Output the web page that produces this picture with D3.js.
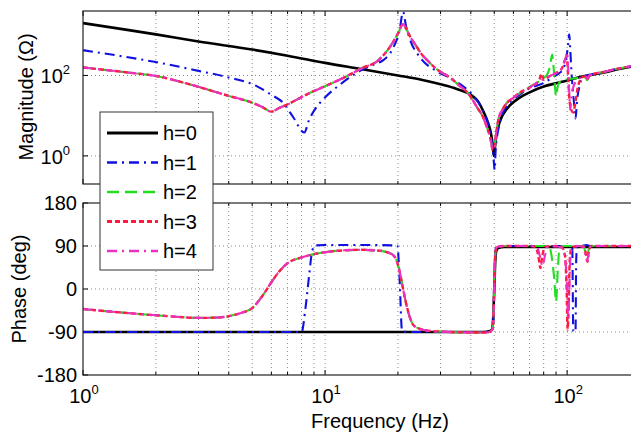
<!DOCTYPE html>
<html><head><meta charset="utf-8">
<script src="https://cdn.jsdelivr.net/npm/d3@7"></script>
<style>
body{margin:0;background:#fff}
svg{display:block}
text{font-family:"Liberation Sans",Arial,Helvetica,sans-serif;fill:#000}
</style>
</head><body>
<svg id="c" width="631" height="432"></svg>
<script>
// ---------- DATA ----------
const seriesNames = ["h=0","h=1","h=2","h=3","h=4"];
const xTickValues = [1, 10, 100];
const xTickExponents = ["0","1","2"];
const magTickValues = [1, 100];
const magTickExponents = ["0","2"];
const phaseTickValues = [-180, -90, 0, 90, 180];
const phaseGridValues = [-90, 0, 90];

// magnitude (Ohm) vs frequency (Hz)
const mag_h0 = [[1,2000],[1.5,1380],[2,1050],[3,700],[5,440],[7,310],[10,205],[14,145],[20,100],[25,78],[30,60],[35,46],[40,33],[43,22],[45,13],[47,7],[48.5,3.5],[49.3,1.8],[49.8,1.0],[50.3,1.6],[51,3.2],[52,5.5],[54,10],[56,14],[58,18],[63,27],[70,38],[80,53],[90,64],[100,75],[110,88],[125,102],[140,116],[160,140],[185,166],[200,180]];
const mag_h1 = [[1,425],[1.5,290],[2,215],[3,130],[4,89],[5,61],[6,33],[6.7,21],[7.4,9],[8.2,3.8],[8.6,8],[9.2,16],[9.8,25],[11.8,66],[14.3,141],[16,190],[17.4,240],[19.1,480],[20.3,1300],[21,3800],[21.6,1700],[22.4,800],[24.7,280],[29,126],[33,85],[37,55],[41,31],[44,17],[46,9.5],[48,4],[49.2,1.6],[49.8,0.7],[50.2,0.45],[50.6,1.2],[51.2,2.6],[52.5,6],[54,11],[57,19],[63,32],[70,48],[80,65],[87,89],[93,115],[96,141],[99,250],[101,600],[102,1060],[103,450],[104,150],[105.5,45],[107,18],[108.3,8.5],[110,25],[113,60],[116,92],[125,105],[140,120],[160,145],[185,170],[200,182]];
const magLow_h234 = [[1,158],[1.5,120],[2,97],[3,52],[4,31],[5,21],[5.5,16.4],[6,12.6],[6.5,15.8],[7,19],[8,29],[9,41],[10,54],[12,89],[14.3,155],[16.4,224],[18.6,530],[20,1100],[21,1900],[21.7,1400],[22.4,950],[24,500],[24.7,380],[27,210],[29,141],[32.8,89],[36,55],[39,36],[42.5,16],[45,9],[46.7,5],[48.3,2.6],[49.3,1.4],[50,1.5],[51,4],[52,8],[54,14],[56.5,21]];
const magHigh_h2 = [[60,28],[63.5,36],[70,52],[75,66],[80,85],[83,110],[85,170],[86.7,330],[88,150],[89,60],[90,30],[91,45],[92.5,65],[95,75],[100,80],[110,86],[116,94],[119,88],[121,76],[123,92],[126,105],[140,120],[160,145],[185,170],[200,182]];
const magHigh_h3 = [[60,28],[63.5,37],[70,50],[75,65],[77,82],[78.5,110],[80,78],[82,85],[86,100],[90,115],[93.6,130],[96.5,180],[98.5,260],[100,230],[101,90],[102,30],[104,14],[106,12],[108,20],[111,55],[116,92],[119,95],[121,80],[123,95],[126,105],[140,120],[160,145],[185,170],[200,182]];
const magHigh_h4 = [[60,28],[63.5,37],[70,50],[75,65],[80,82],[85,98],[90,115],[93.6,130],[96.5,190],[99,300],[100,380],[101,150],[102,40],[103,14],[104.5,35],[106.5,55],[110,75],[116,92],[119,95],[121,82],[123,96],[126,105],[140,120],[160,145],[185,170],[200,182]];

// phase (deg) vs frequency (Hz)
const ph_h0 = [[1,-90],[45,-90],[48,-88],[49,-84],[49.5,-60],[50,0],[50.5,60],[51,80],[52,86],[55,88],[200,88]];
const ph_h1 = [[1,-90],[8.0,-90],[8.3,-40],[8.6,30],[8.85,80],[9.1,91],[10,92],[15,92],[19.9,91],[20.3,25],[20.8,-88],[22,-90],[30,-90],[47,-90],[48.5,-88],[49.3,-82],[49.8,-30],[50.3,60],[50.8,86],[52,90],[90,90],[103,90],[105,86],[106,-88],[108.3,-90],[109,60],[110,88],[115,90],[120,92],[125,90],[200,90]];
const phLow_h234 = [[1,-42],[1.5,-50],[2,-55],[2.5,-58.5],[3,-60.5],[3.5,-60],[4,-57],[4.5,-50],[5,-40],[5.5,-15],[6,14],[6.5,38],[7,54],[8,66],[9,73],[10,77],[12,81],[14,82],[16.9,80],[18,77],[19.1,71],[19.8,58],[20.4,33],[21.1,-5],[21.8,-38],[22.5,-62],[23.1,-75],[24.5,-83],[26.4,-87],[30,-89],[40,-91],[47,-91],[48.5,-88],[49.3,-80],[49.8,-30],[50.3,60],[51,86],[52,89],[55,90],[60,90],[70,90]];
const phHigh_h2 = [[75,90],[84,90],[86.5,65],[88.5,20],[90,-27],[91.5,40],[93,85],[96,90],[110,90],[117,90],[119,76],[121,70],[123,84],[126,90],[200,90]];
const phHigh_h3 = [[74,88],[76,70],[77.5,44],[79,70],[81,88],[90,90],[95,88],[98,70],[99.5,0],[100.5,-85],[101.5,-30],[102.5,60],[104,85],[110,90],[118,88],[120,68],[121.5,57],[123,80],[126,90],[200,90]];
const phHigh_h4 = [[75,88],[77.5,65],[79,48],[81,70],[83,88],[90,89],[95,86],[98,65],[100,0],[101,-62],[102,-10],[103,60],[105,85],[110,90],[117,88],[119.5,65],[121,58],[123,80],[126,90],[200,90]];

// ---------- STYLE ----------
const styles = [
  {color:"#000000", dash:null,        width:2.6},
  {color:"#1010e0", dash:"10,5,2,5",  width:2.1},
  {color:"#22dd22", dash:"12,6",      width:2.1},
  {color:"#ff1a40", dash:"5,3",       width:2.4},
  {color:"#ee30c0", dash:"10,5,2,5",  width:2.1}
];
const mags = [mag_h0, mag_h1, magLow_h234.concat(magHigh_h2), magLow_h234.concat(magHigh_h3), magLow_h234.concat(magHigh_h4)];
const phs  = [ph_h0, ph_h1, phLow_h234.concat(phHigh_h2), phLow_h234.concat(phHigh_h3), phLow_h234.concat(phHigh_h4)];

// ---------- SCALES ----------
const svg = d3.select("#c");
const L = 83, R = 640;
const x = d3.scaleLog().domain([1, 200]).range([L, R]);
const yM = d3.scaleLog().domain([0.2, 4000]).range([184, 11]);
const yP = d3.scaleLinear().domain([-180, 180]).range([375, 203]);

const xMinor = [];
for (let k = 0; k < 3; k++) for (let m = 1; m < 10; m++) { const v = m * Math.pow(10, k); if (v <= 200) xMinor.push(v); }

const defs = svg.append("defs");
function panel(id, y, top, bottom, yGrid, yTicks) {
  defs.append("clipPath").attr("id", "clip" + id).append("rect")
    .attr("x", L).attr("y", top).attr("width", R - L).attr("height", bottom - top);
  const g = svg.append("g");
  g.append("rect").attr("x", L).attr("y", top).attr("width", R - L).attr("height", bottom - top).attr("fill", "#fff");
  // grid
  g.selectAll(".vg").data(xMinor.filter(v => v > 1)).enter().append("line")
    .attr("x1", d => x(d)).attr("x2", d => x(d)).attr("y1", top).attr("y2", bottom)
    .attr("stroke", "#8a8a8a").attr("stroke-width", 1).attr("stroke-dasharray", "1,3");
  g.selectAll(".hg").data(yGrid).enter().append("line")
    .attr("x1", L).attr("x2", R).attr("y1", d => y(d)).attr("y2", d => y(d))
    .attr("stroke", "#8a8a8a").attr("stroke-width", 1).attr("stroke-dasharray", "1,3");
  // ticks on bottom and top
  const isMajor = v => xTickValues.includes(v);
  g.selectAll(".tb").data(xMinor).enter().append("line")
    .attr("x1", d => x(d)).attr("x2", d => x(d)).attr("y1", bottom).attr("y2", d => bottom - (isMajor(d) ? 5 : 3))
    .attr("stroke", "#000");
  g.selectAll(".tt").data(xMinor).enter().append("line")
    .attr("x1", d => x(d)).attr("x2", d => x(d)).attr("y1", top).attr("y2", d => top + (isMajor(d) ? 5 : 3))
    .attr("stroke", "#000");
  g.selectAll(".tl").data(yTicks).enter().append("line")
    .attr("x1", L).attr("x2", L + 5).attr("y1", d => y(d)).attr("y2", d => y(d)).attr("stroke", "#000");
  const lines = svg.append("g").attr("clip-path", "url(#clip" + id + ")");
  svg.append("rect").attr("x", L).attr("y", top).attr("width", R - L).attr("height", bottom - top)
    .attr("fill", "none").attr("stroke", "#222").attr("stroke-width", 1.2);
  return lines;
}

const gM = panel("m", yM, 11, 184, magTickValues, magTickValues);
const gP = panel("p", yP, 203, 375, phaseGridValues, phaseTickValues);

const lineM = d3.line().x(d => x(d[0])).y(d => yM(d[1])).curve(d3.curveMonotoneX);
const lineP = d3.line().x(d => x(d[0])).y(d => yP(d[1])).curve(d3.curveMonotoneX);

seriesNames.forEach((n, i) => {
  const s = styles[i];
  gM.append("path").attr("d", lineM(mags[i])).attr("fill", "none").attr("stroke", s.color)
    .attr("stroke-width", s.width).attr("stroke-dasharray", s.dash).attr("stroke-linejoin", "round");
  gP.append("path").attr("d", lineP(phs[i])).attr("fill", "none").attr("stroke", s.color)
    .attr("stroke-width", s.width).attr("stroke-dasharray", s.dash).attr("stroke-linejoin", "round");
});

// ---------- TICK LABELS ----------
magTickValues.forEach((v, i) => {
  const t = svg.append("text").attr("x", 70).attr("y", yM(v) + 8).attr("text-anchor", "end").attr("font-size", 20);
  t.append("tspan").text("10");
  t.append("tspan").attr("dy", -9).attr("font-size", 13).text(magTickExponents[i]);
});
phaseTickValues.forEach(v => {
  svg.append("text").attr("x", 77).attr("y", yP(v) + 7).attr("text-anchor", "end").attr("font-size", 20).text(v);
});
xTickValues.forEach((v, i) => {
  const t = svg.append("text").attr("x", x(v) + 1).attr("y", 403).attr("text-anchor", "middle").attr("font-size", 20);
  t.append("tspan").text("10");
  t.append("tspan").attr("dy", -9).attr("font-size", 13).text(xTickExponents[i]);
});

// ---------- AXIS TITLES ----------
svg.append("text").attr("transform", "translate(33,97) rotate(-90)").attr("text-anchor", "middle")
  .attr("font-size", 20).text("Magnitude (Ω)");
svg.append("text").attr("transform", "translate(26,289) rotate(-90)").attr("text-anchor", "middle")
  .attr("font-size", 20).text("Phase (deg)");
svg.append("text").attr("x", 380).attr("y", 428).attr("text-anchor", "middle")
  .attr("font-size", 20).text("Frequency (Hz)");

// ---------- LEGEND ----------
const lg = svg.append("g");
lg.append("rect").attr("x", 100).attr("y", 112).attr("width", 113).attr("height", 158)
  .attr("fill", "#fff").attr("stroke", "#333").attr("stroke-width", 1);
seriesNames.forEach((n, i) => {
  const yy = 133 + i * 29.5;
  const s = styles[i];
  lg.append("line").attr("x1", 107).attr("x2", 158).attr("y1", yy).attr("y2", yy)
    .attr("stroke", s.color).attr("stroke-width", s.width + 0.4).attr("stroke-dasharray", s.dash);
  lg.append("text").attr("x", 163).attr("y", yy + 7).attr("font-size", 20).text(n);
});
</script>
</body></html>
